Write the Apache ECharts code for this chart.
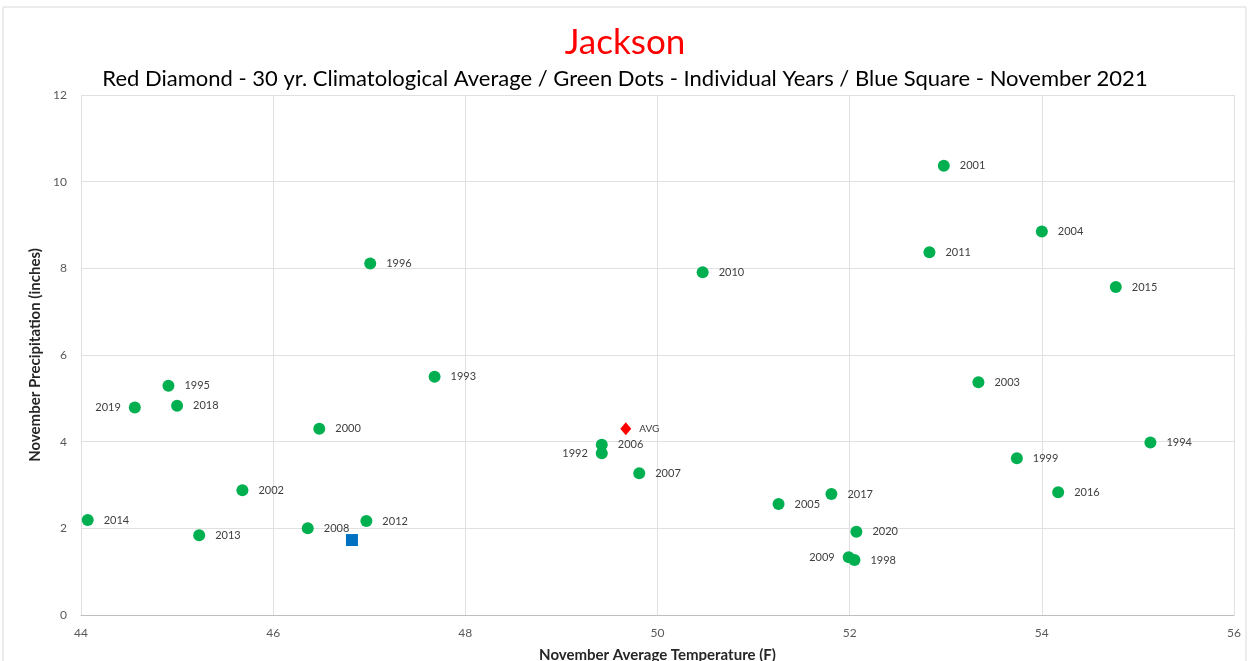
<!DOCTYPE html>
<html>
<head>
<meta charset="utf-8">
<script src="https://cdn.jsdelivr.net/npm/echarts@6/dist/echarts.min.js"></script>
<style>
  html, body { margin: 0; padding: 0; background: #fff; }
  #chart { width: 1250px; height: 661px; }
</style>
</head>
<body>
<div id="chart"></div>
<script>
// individual years: [temp F, precip in]
const years = ['1992', '1993', '1994', '1995', '1996', '1998', '1999', '2000', '2001', '2002',
  '2003', '2004', '2005', '2006', '2007', '2008', '2009', '2010', '2011', '2012',
  '2013', '2014', '2015', '2016', '2017', '2018', '2019', '2020'];
const temps = [49.42, 47.68, 55.13, 44.91, 47.01, 52.05, 53.74, 46.48, 52.98, 45.68,
  53.34, 54.00, 51.26, 49.42, 49.81, 46.36, 51.99, 50.47, 52.83, 46.97,
  45.23, 44.07, 54.77, 54.17, 51.81, 45.00, 44.56, 52.07];
const precip = [3.73, 5.50, 3.98, 5.29, 8.11, 1.27, 3.62, 4.30, 10.37, 2.88,
  5.37, 8.85, 2.56, 3.93, 3.27, 2.00, 1.33, 7.91, 8.37, 2.17,
  1.84, 2.19, 7.57, 2.83, 2.79, 4.83, 4.79, 1.92];
const leftLabelYears = ['1992', '2009', '2019'];

const avgPoint = [49.67, 4.30];
const nov2021 = [46.82, 1.73];

const xTicks = [44, 46, 48, 50, 52, 54, 56];
const yTicks = [0, 2, 4, 6, 8, 10, 12];

const FONT = 'Lato';
const myChart = echarts.init(document.getElementById('chart'));

const yearData = years.map((y, i) => {
  const left = leftLabelYears.includes(y);
  return {
    name: y,
    value: [temps[i], precip[i]],
    label: { position: left ? 'left' : 'right', distance: left ? 8 : 10 },
  };
});

const option = {
  backgroundColor: '#fff',
  animation: false,
  graphic: [{
    type: 'rect',
    shape: { x: 3, y: 7, width: 1243, height: 660 },
    style: { fill: 'none', stroke: '#d9d9d9', lineWidth: 1 },
    silent: true,
  }],
  title: [
    {
      text: 'Jackson',
      left: 'center',
      top: 20,
      textStyle: { color: '#ff0000', fontSize: 35, fontWeight: 'normal', fontFamily: FONT },
    },
    {
      text: 'Red Diamond - 30 yr. Climatological Average / Green Dots - Individual Years / Blue Square - November 2021',
      left: 'center',
      top: 63,
      textStyle: { color: '#000', fontSize: 22, fontWeight: 'normal', fontFamily: FONT },
    },
  ],
  grid: { left: 81, right: 16, top: 95, bottom: 46, outerBoundsMode: 'none' },
  xAxis: {
    type: 'value',
    min: xTicks[0],
    max: xTicks[xTicks.length - 1],
    interval: 2,
    name: 'November Average Temperature (F)',
    nameLocation: 'middle',
    nameGap: 33,
    nameTextStyle: { color: '#262626', fontSize: 15, fontWeight: 'bold', fontFamily: FONT },
    axisLine: { lineStyle: { color: '#bfbfbf' } },
    axisTick: { show: false },
    axisLabel: { color: '#595959', fontSize: 12, margin: 12, fontFamily: FONT },
    splitLine: { lineStyle: { color: '#e0e0e0' } },
  },
  yAxis: {
    type: 'value',
    min: yTicks[0],
    max: yTicks[yTicks.length - 1],
    interval: 2,
    name: 'November Precipitation (inches)',
    nameLocation: 'middle',
    nameGap: 34,
    nameTextStyle: { color: '#262626', fontSize: 15, fontWeight: 'bold', fontFamily: FONT },
    axisLine: { show: false },
    axisTick: { show: false },
    axisLabel: { color: '#595959', fontSize: 12, margin: 14, fontFamily: FONT },
    splitLine: { lineStyle: { color: '#e0e0e0' } },
  },
  series: [
    {
      name: 'Years',
      type: 'scatter',
      symbol: 'circle',
      symbolSize: 12,
      itemStyle: { color: '#00b050', opacity: 1 },
      label: {
        show: true,
        formatter: '{b}',
        color: '#404040',
        fontSize: 11,
        fontFamily: FONT,
      },
      data: yearData,
      z: 3,
    },
    {
      name: 'Average',
      type: 'scatter',
      symbol: 'diamond',
      symbolSize: [11, 13],
      itemStyle: { color: '#ff0000', opacity: 1 },
      label: {
        show: true,
        position: 'right',
        distance: 8,
        formatter: 'AVG',
        color: '#404040',
        fontSize: 10,
        fontFamily: FONT,
      },
      data: [avgPoint],
      z: 4,
    },
    {
      name: 'November 2021',
      type: 'scatter',
      symbol: 'rect',
      symbolSize: 12,
      itemStyle: { color: '#0070c0', opacity: 1 },
      data: [nov2021],
      z: 4,
    },
  ],
};

myChart.setOption(option);
window.addEventListener('resize', () => myChart.resize());
</script>
</body>
</html>
